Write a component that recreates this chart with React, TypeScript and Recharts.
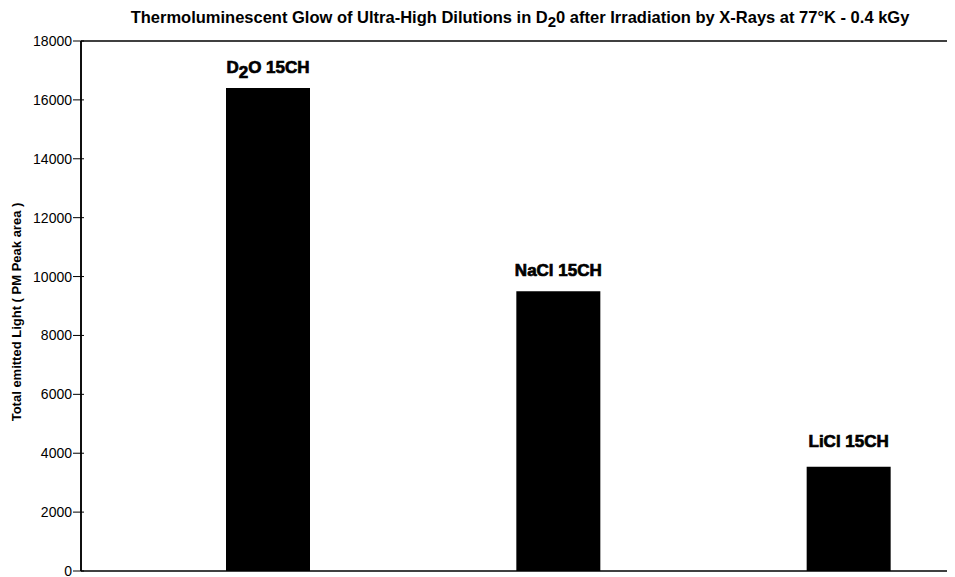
import { BarChart, Bar, XAxis, YAxis, Label, LabelList, CartesianGrid } from 'recharts'

// samples (D_2 marks a subscript 2)
const samples = ['D_2O 15CH', 'NaCl 15CH', 'LiCl 15CH']
const emittedLight = [16400, 9500, 3540]
const yTicks = [0, 2000, 4000, 6000, 8000, 10000, 12000, 14000, 16000, 18000]

const data = samples.map((name, i) => ({ name, light: emittedLight[i] }))

const FONT = '"Liberation Sans", Arial, sans-serif'

function RichText({ text }: { text: string }) {
  const parts = text.split('_')
  return (
    <>
      {parts.map((p, i) =>
        i === 0 ? (
          <tspan key={i}>{p}</tspan>
        ) : (
          <tspan key={i}>
            <tspan dy={5}>{p[0]}</tspan>
            <tspan dy={-5}>{p.slice(1)}</tspan>
          </tspan>
        )
      )}
    </>
  )
}

function BarName(props: any) {
  const { x, y, width, value } = props
  if (value == null) return null
  const lift = value === 'LiCl 15CH' ? 20 : 15
  return (
    <text
      x={x + width / 2}
      y={y - lift}
      textAnchor="middle"
      fontFamily={FONT}
      fontWeight="bold"
      fontSize={17}
      fill="#000"
      stroke="#000"
      strokeWidth={0.7}
    >
      <RichText text={value} />
    </text>
  )
}

// tick mark crosses the axis line, label sits left of it
function YTick(props: any) {
  const { x, y, payload } = props
  return (
    <g>
      <line x1={x + 1} x2={x + 12} y1={y} y2={y} stroke="#000" strokeWidth={1} />
      <text
        x={x}
        y={y}
        textAnchor="end"
        dominantBaseline="central"
        fontFamily={FONT}
        fontSize={14}
        fill="#000"
      >
        {payload.value}
      </text>
    </g>
  )
}

export default function App() {
  return (
    <div style={{ position: 'relative', width: 947, height: 569, fontFamily: FONT }}>
      <div
        style={{
          position: 'absolute',
          top: 0,
          left: 0,
          width: 1024,
          textAlign: 'center',
          fontWeight: 'bold',
          fontSize: 16.5,
          lineHeight: '18px',
        }}
      >
        Thermoluminescent Glow of Ultra-High Dilutions in D
        <span style={{ position: 'relative', top: 4, fontSize: 15 }}>2</span>0 after Irradiation by X-Rays at 77°K - 0.4 kGy
      </div>
      <BarChart
        width={947}
        height={569}
        data={data}
        margin={{ top: 33, right: 3, bottom: 5, left: 0 }}
        barGap={0}
        barSize={84}
      >
        {/* plot frame: left/right and top/bottom edges of the plot area */}
        <CartesianGrid
          stroke="#000"
          strokeWidth={1.5}
          verticalCoordinatesGenerator={({ offset }: any) => [offset.left, offset.left + offset.width]}
          horizontalCoordinatesGenerator={({ offset }: any) => [offset.top, offset.top + offset.height]}
        />
        <XAxis dataKey="name" tick={false} tickLine={false} height={1} axisLine={false} />
        <YAxis
          width={73}
          domain={[0, 18000]}
          ticks={yTicks}
          interval={0}
          tickSize={0}
          tickMargin={9}
          tickLine={false}
          axisLine={{ stroke: '#000', strokeWidth: 1.5 }}
          tick={<YTick />}
        >
          <Label
            content={({ viewBox }: any) => {
              const cx = 8
              const cy = viewBox.y + viewBox.height / 2 + 6
              return (
                <text
                  x={cx}
                  y={cy}
                  transform={`rotate(-90 ${cx} ${cy})`}
                  textAnchor="middle"
                  dominantBaseline="central"
                  fontFamily={FONT}
                  fontWeight="bold"
                  fontSize={13}
                  fill="#000"
                >
                  Total emitted Light ( PM Peak area )
                </text>
              )
            }}
          />
        </YAxis>
        <Bar dataKey="control" fill="#000" isAnimationActive={false} />
        <Bar dataKey="light" fill="#000" isAnimationActive={false}>
          <LabelList dataKey="name" content={<BarName />} />
        </Bar>
      </BarChart>
    </div>
  )
}
